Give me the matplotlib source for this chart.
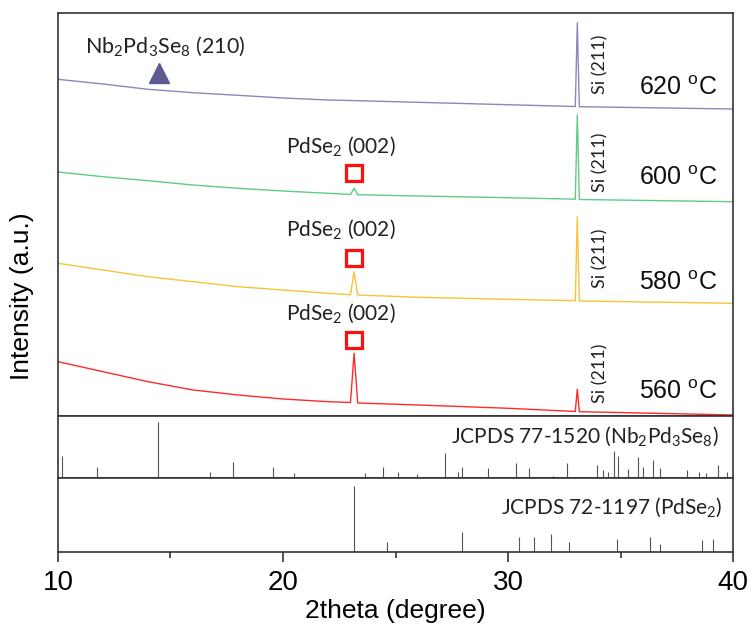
import matplotlib
matplotlib.use('Agg')
import matplotlib.pyplot as plt
from matplotlib import font_manager

plt.rcParams['mathtext.default'] = 'regular'

# 2theta 采样点
theta = [10, 12, 14, 16, 18, 20, 22, 23.0, 23.16, 23.32, 26, 30, 32.99, 33.08, 33.17, 40]
# 四条 XRD 曲线 (已加偏移)
i_620 = [336.7, 332, 326.7, 323.3, 320.7, 318, 316, 315.5, 315.4, 315.3, 313.7, 311.3, 309.5, 393.3, 309.3, 307]
i_600 = [244, 239.3, 235.3, 231, 227.7, 225, 222.7, 221.5, 227.7, 221.3, 220, 218.3, 216.8, 301, 216.5, 214.3]
i_580 = [152.7, 146, 139.3, 134.3, 129.3, 126, 122.7, 121.3, 144.3, 121, 118.7, 116.7, 115.3, 199.3, 115, 112.7]
i_560 = [54.3, 44.3, 34.3, 26, 21, 17, 14.3, 13.5, 62.7, 13, 11, 7.7, 4.5, 26.7, 4.3, 1]
temps = ['620', '600', '580', '560']
colors = ['#8888bc', '#5fcc84', '#f7c33a', '#ff2a2a']

# JCPDS 77-1520 (Nb2Pd3Se8)
nb_pos = [10.19, 11.72, 14.43, 16.76, 17.76, 19.54, 20.50, 23.63, 24.46, 25.10,
          25.97, 27.20, 27.79, 27.94, 29.10, 30.34, 30.93, 32.01, 32.64, 33.94,
          34.24, 34.46, 34.72, 34.88, 35.32, 35.79, 36.01, 36.43, 36.76, 37.94,
          38.49, 38.80, 39.32, 39.72]
nb_int = [39, 21, 100, 11, 29, 21, 9, 9, 21, 12,
          7, 45, 11, 20, 18, 27, 18, 5, 27, 23,
          14, 11, 48, 39, 16, 38, 20, 32, 18, 14,
          11, 9, 23, 11]
# JCPDS 72-1197 (PdSe2)
pd_pos = [23.16, 24.61, 27.94, 30.50, 31.17, 31.91, 32.71, 34.83, 36.31, 36.76, 38.61, 39.12]
pd_int = [100, 15, 30, 23, 23, 27, 15, 19, 22, 11, 18, 20]

# 标注位置
si_y = [322, 224, 128, 13]
temp_y = [321, 231, 126, 17]
pdse2_label_y = [263.5, 180.5, 96]
pdse2_mark_y = [243, 157.5, 76]

names = [f.name for f in font_manager.fontManager.ttflist]
ann_font = 'Lato' if 'Lato' in names else 'DejaVu Sans'
ax_font = 'Liberation Sans' if 'Liberation Sans' in names else 'DejaVu Sans'

fig = plt.figure(figsize=(7.56, 6.38), dpi=100)
ax = fig.add_axes([0.0767, 0.3480, 0.8929, 0.6316])
ax1 = fig.add_axes([0.0767, 0.2503, 0.8929, 0.0977], sharex=ax)
ax2 = fig.add_axes([0.0767, 0.1353, 0.8929, 0.1150], sharex=ax)

for y, c in zip([i_620, i_600, i_580, i_560], colors):
    ax.plot(theta, y, color=c, lw=1.0)

ax.plot([14.47], [343], marker='^', ms=14.5, color='#5c5c90', ls='none')
ax.text(11.2, 363, 'Nb$_2$Pd$_3$Se$_8$ (210)', fontsize=15.5, family=ann_font,
        ha='left', va='baseline', color='#222222')
for ly, my in zip(pdse2_label_y, pdse2_mark_y):
    ax.text(22.58, ly, 'PdSe$_2$ (002)', fontsize=15, family=ann_font,
            ha='center', va='baseline', color='#222222')
    ax.plot([23.17], [my], marker='s', ms=12, mfc='none', mec='#ff1010', mew=2.3, ls='none')
for sy in si_y:
    ax.text(34.09, sy, 'Si (211)', fontsize=13, family=ann_font, rotation=90,
            ha='center', va='bottom', color='#222222')
for t, ty in zip(temps, temp_y):
    ax.text(39.29, ty, t + r' $^{o}$C', fontsize=18, family=ax_font,
            ha='right', va='baseline', color='#111111')

ax1.vlines(nb_pos, 0, nb_int, color='#555555', lw=0.8)
ax2.vlines(pd_pos, 0, pd_int, color='#555555', lw=0.8)
ax1.text(39.35, 64.3, 'JCPDS 77-1520 (Nb$_2$Pd$_3$Se$_8$)', fontsize=15, family=ann_font,
         ha='right', va='baseline', color='#222222')
ax2.text(39.54, 58.4, 'JCPDS 72-1197 (PdSe$_2$)', fontsize=15, family=ann_font,
         ha='right', va='baseline', color='#222222')

ax.set_xlim(10, 40)
ax.set_ylim(0, 403)
ax1.set_ylim(0, 111.3)
ax2.set_ylim(0, 111.7)

for a in (ax, ax1, ax2):
    a.set_yticks([])
    for s in a.spines.values():
        s.set_color('#333333')
        s.set_linewidth(1.2)
ax.tick_params(axis='x', bottom=False, labelbottom=False)
ax1.tick_params(axis='x', bottom=False, labelbottom=False)
ax2.set_xticks([10, 20, 30, 40])
ax2.set_xticks([15, 25, 35], minor=True)
ax2.tick_params(axis='x', which='major', length=7, width=1.2, color='#333333',
                labelsize=20, pad=6)
ax2.tick_params(axis='x', which='minor', length=4, width=1.2, color='#333333')
for lb in ax2.get_xticklabels():
    lb.set_family(ax_font)
ax2.set_xlabel('2theta (degree)', fontsize=19, family=ax_font, labelpad=2)
fig.text(0.029, 1 - 296 / 638, 'Intensity (a.u.)', rotation=90, fontsize=19,
         family=ax_font, ha='center', va='center')

fig.savefig('out.png', dpi=100)
